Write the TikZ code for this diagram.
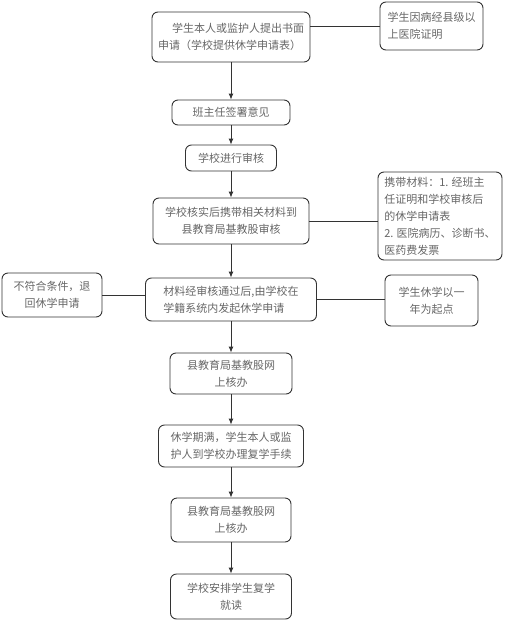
\documentclass[tikz,border=0pt]{standalone}
\usepackage{fontspec}
\setmainfont{Noto Sans CJK SC}
\usetikzlibrary{arrows.meta,positioning}
\definecolor{fltext}{HTML}{666666}
\tikzset{
  flbox/.style={draw=black!80, rounded corners=6pt, line width=0.9pt, inner sep=3pt,
    text=fltext, font=\fontsize{11pt}{17pt}\selectfont, align=center},
  flarrow/.style={-{Latex[length=6pt,width=5pt]}, line width=0.9pt, black!80},
  flline/.style={line width=0.9pt, black!80},
}

\begin{document}
\begin{tikzpicture}[x=1pt, y=-1pt]
  \useasboundingbox (0,0) rectangle (513,622);

  % main column
  \node[flbox, align=left, minimum width=158pt, minimum height=50pt] (apply) at (231,37)
    {\hspace*{14pt}学生本人或监护人提出书面\\申请（学校提供休学申请表）};
  \node[flbox, minimum width=118pt, minimum height=25pt] (sign) at (231,112.5) {班主任签署意见};
  \node[flbox, minimum width=91pt, minimum height=26pt] (check) at (231,158) {学校进行审核};
  \node[flbox, minimum width=156pt, minimum height=46pt] (county) at (231,221)
    {学校核实后携带相关材料到\\县教育局基教股审核};
  \node[flbox, align=left, minimum width=171pt, minimum height=43pt] (launch) at (231,299.5)
    {材料经审核通过后,由学校在\\学籍系统内发起休学申请};
  \node[flbox, minimum width=122pt, minimum height=41pt] (online) at (231,373.5)
    {县教育局基教股网\\上核办};
  \node[flbox, minimum width=145pt, minimum height=42pt] (resume) at (231,446)
    {休学期满，学生本人或监\\护人到学校办理复学手续};
  \node[flbox, minimum width=120pt, minimum height=44pt] (online2) at (231,520)
    {县教育局基教股网\\上核办};
  \node[flbox, minimum width=121pt, minimum height=45pt] (back) at (231,596.5)
    {学校安排学生复学\\就读};

  % side notes
  \node[flbox, align=left, inner xsep=6pt, minimum width=103pt, minimum height=48pt] (proof) at (431.5,26)
    {学生因病经县级以\\上医院证明};
  \node[flbox, align=left, inner xsep=6pt, minimum width=124pt, minimum height=88pt] (docs) at (440,216)
    {携带材料：1. 经班主\\任证明和学校审核后\\的休学申请表\\2. 医院病历、诊断书、\\医药费发票};
  \node[flbox, minimum width=100pt, minimum height=44pt] (reject) at (52,295)
    {不符合条件，退\\回休学申请};
  \node[flbox, minimum width=93pt, minimum height=51pt] (year) at (431.5,300.5)
    {学生休学以一\\年为起点};

  \draw[flarrow] (apply) -- (sign);
  \draw[flarrow] (sign) -- (check);
  \draw[flarrow] (check) -- (county);
  \draw[flarrow] (county) -- (launch);
  \draw[flarrow] (launch) -- (online);
  \draw[flarrow] (online) -- (resume);
  \draw[flarrow] (resume) -- (online2);
  \draw[flarrow] (online2) -- (back);

  \draw[flline] (proof.west -| apply.east) -- (proof.west);
  \draw[flline] (county.east) -- (county.east -| docs.west);
  \draw[flline] (reject.east) -- (reject.east -| launch.west);
  \draw[flline] (launch.east) -- (launch.east -| year.west);
\end{tikzpicture}
\end{document}
